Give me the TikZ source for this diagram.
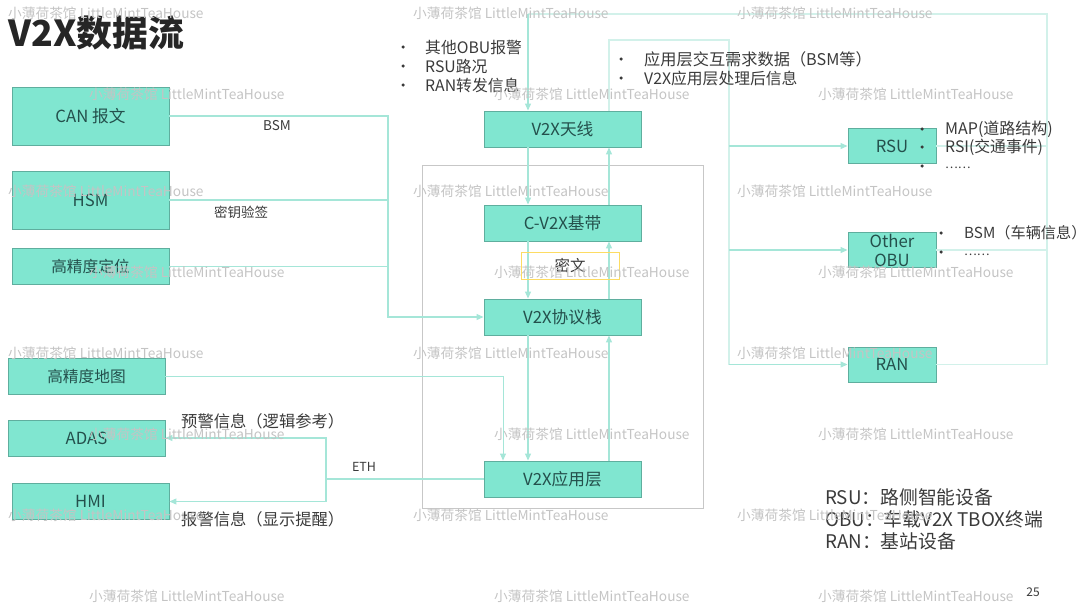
\documentclass[tikz,border=0pt]{standalone}
\usepackage{fontspec}
\setmainfont{Noto Sans CJK SC}
\usetikzlibrary{arrows.meta,calc}
\definecolor{boxfill}{HTML}{80E6D0}
\definecolor{boxline}{HTML}{5FAE9E}
\definecolor{flow}{HTML}{A5E6D8}
\definecolor{faint}{HTML}{D2F1EA}
\definecolor{ink}{HTML}{3A3A3A}
\definecolor{boxink}{HTML}{24504C}
\definecolor{wm}{HTML}{C4C4C4}
\tikzset{
  box/.style={draw=boxline,line width=0.9pt,fill=boxfill,text=boxink,inner sep=0pt,font=\fontsize{16.7}{19}\selectfont,align=center},
  wide/.style={box,minimum width=157pt,minimum height=36pt},
  tall/.style={box,minimum width=157pt,minimum height=58pt},
  small/.style={box,minimum width=88pt,minimum height=35pt},
  flowline/.style={draw=flow,line width=1.1pt},
  faintline/.style={draw=faint,line width=1.1pt},
  arr/.style={flowline,-{Triangle[length=7pt,width=6pt]}},
  txt/.style={text=ink,anchor=west,inner sep=0pt,font=\fontsize{15.8}{18}\selectfont},
  lbl/.style={text=ink,inner sep=0pt,font=\fontsize{13.5}{15}\selectfont},
  bullet/.style={circle,fill=ink,inner sep=0pt,minimum size=3.5pt},
  wmark/.style={text=wm,anchor=west,inner sep=0pt,font=\fontsize{13.7}{15}\selectfont},
  cjkonly/.style={font=\fontsize{15.7}{19}\selectfont},
}
\begin{document}
\begin{tikzpicture}[x=1pt,y=-1pt]
\useasboundingbox (0,0) rectangle (1080,608);
% enclosing frame
\node[draw=black!22,line width=1pt,minimum width=281pt,minimum height=343pt,inner sep=0pt] (frame) at (562.5,336.5) {};
% boxes
\node[tall] (can) at (90.5,116) {CAN 报文};
\node[tall] (hsm) at (90.5,200) {HSM};
\node[wide,cjkonly] (pos) at (90.5,266.5) {高精度定位};
\node[wide,cjkonly] (map) at (86.5,376) {高精度地图};
\node[wide] (adas) at (86.5,438) {ADAS};
\node[wide] (hmi) at (90.5,501.5) {HMI};
\node[wide] (ant) at (562.5,129) {V2X天线};
\node[wide] (base) at (562.5,223) {C-V2X基带};
\node[wide] (stack) at (562.5,317) {V2X协议栈};
\node[wide] (app) at (562.5,479) {V2X应用层};
\node[small] (rsu) at (892,146) {RSU};
\node[small,font=\fontsize{16.7}{19}\selectfont] (obu) at (892,250) {Other\\OBU};
\node[small] (ran) at (892,364.5) {RAN};
% helper coordinates
\coordinate (xL) at (528,0);
\coordinate (xR) at (609,0);
\coordinate (busIn) at (388,116);
\coordinate (topR) at (1047,14);
\coordinate (topL) at (528,14);
\coordinate (upTop) at (609,40);
\coordinate (busOut) at (729,40);
\coordinate (eth) at (326,479);
\coordinate (mapDrop) at (503,376);
% left inputs
\draw[flowline] (can.east) -- (busIn) -- (busIn |- hsm.east);
\draw[flowline] (hsm.east) -- (busIn |- hsm.east);
\draw[flowline] (pos.east) -- (busIn |- pos.east);
\draw[arr] (busIn) |- (stack.west);
\draw[arr,line width=0.9pt] (map.east) -- (mapDrop) -- (mapDrop |- app.north);
% outputs to ADAS / HMI
\draw[flowline] (app.west) -- (eth);
\draw[arr] (eth) |- (adas.east);
\draw[arr] (eth) |- (hmi.east);
% central chain
\draw[arr] (xL |- ant.south) -- (xL |- base.north);
\draw[arr] (xL |- base.south) -- (xL |- stack.north);
\draw[arr] (xL |- stack.south) -- (xL |- app.north);
\draw[arr] (xR |- app.north) -- (xR |- stack.south);
\draw[arr] (xR |- stack.north) -- (xR |- base.south);
\draw[arr] (xR |- base.north) -- (xR |- ant.south);
% outward
\draw[faintline] (xR |- ant.north) -- (upTop) -- (busOut) -- (busOut |- ran.west);
\draw[arr] (busOut |- rsu.west) -- (rsu.west);
\draw[arr] (busOut |- obu.west) -- (obu.west);
\draw[arr] (busOut |- ran.west) -- (ran.west);
% return loop
\draw[faintline] (ran.east) -| (topR) -- (topL);
\draw[faintline] (rsu.east) -- (topR |- rsu.east);
\draw[faintline] (obu.east) -- (topR |- obu.east);
\draw[arr] (topL) -- (xL |- ant.north);
% cipher box
\node[draw=yellow!60!orange!60,line width=1pt,minimum width=98pt,minimum height=27pt,inner sep=0pt,text=ink,font=\fontsize{15.5}{17}\selectfont] (cipher) at (570,265.5) {密文};
% title
\node[anchor=west,inner sep=0pt,text=black!85,font=\bfseries\fontsize{35.8}{38}\selectfont] (title) at (8,33) {V2X数据流};
% labels
\node[lbl] (lbsm) at (277,126) {BSM};
\node[lbl] (lkey) at (241,212) {密钥验签};
\node[lbl,font=\fontsize{12.5}{15}\selectfont] (leth) at (364,467) {ETH};
\node[txt,font=\fontsize{16.3}{18}\selectfont] (warn1) at (181,421) {预警信息（逻辑参考）};
\node[txt,font=\fontsize{16.3}{18}\selectfont] (warn2) at (181,519) {报警信息（显示提醒）};
% bullet lists
\node[bullet] (b1) at (403,47) {}; \node[txt] (t1) at (425,47) {其他OBU报警};
\node[bullet] (b2) at (403,66) {}; \node[txt] (t2) at (425,66) {RSU路况};
\node[bullet] (b3) at (403,85) {}; \node[txt] (t3) at (425,85) {RAN转发信息};
\node[bullet] (b4) at (621,59) {}; \node[txt,font=\fontsize{16.2}{18}\selectfont] (t4) at (644,59) {应用层交互需求数据（BSM等）};
\node[bullet] (b5) at (621,78) {}; \node[txt] (t5) at (644,78) {V2X应用层处理后信息};
\node[bullet] (b6) at (922,129) {}; \node[txt,font=\fontsize{16}{18}\selectfont] (t6) at (945,129) {MAP(道路结构)};
\node[bullet] (b7) at (922,147) {}; \node[txt] (t7) at (945,147) {RSI(交通事件)};
\node[bullet] (b8) at (922,166) {}; \node[txt,font=\fontsize{12}{14}\selectfont] (t8) at (945,168) {……};
\node[bullet] (b9) at (941,233) {}; \node[txt,font=\fontsize{15.2}{18}\selectfont] (t9) at (964,233) {BSM（车辆信息）};
\node[bullet] (b10) at (941,252) {}; \node[txt,font=\fontsize{12}{14}\selectfont] (t10) at (964,255) {……};
% legend
\node[txt,font=\fontsize{18.8}{21}\selectfont] (leg1) at (825,497) {RSU：路侧智能设备};
\node[txt,font=\fontsize{18.8}{21}\selectfont] (leg2) at (825,519) {OBU：车载V2X TBOX终端};
\node[txt,font=\fontsize{18.8}{21}\selectfont] (leg3) at (825,541) {RAN：基站设备};
\node[lbl,font=\fontsize{12}{14}\selectfont] (page) at (1033,592) {25};
% watermarks
\foreach \i/\wx/\wy in {1/8/13,2/413/13,3/737/13,4/89/94,5/494/94,6/818/94,7/8/191,8/413/191,9/737/191,10/89/272,11/494/272,12/818/272,13/8/353,14/413/353,15/737/353,16/89/434,17/494/434,18/818/434,19/8/515,20/413/515,21/737/515,22/89/596,23/494/596,24/818/596}
  \node[wmark,name=wm\i] at (\wx,\wy) {小薄荷茶馆 LittleMintTeaHouse};
\end{tikzpicture}
\end{document}
